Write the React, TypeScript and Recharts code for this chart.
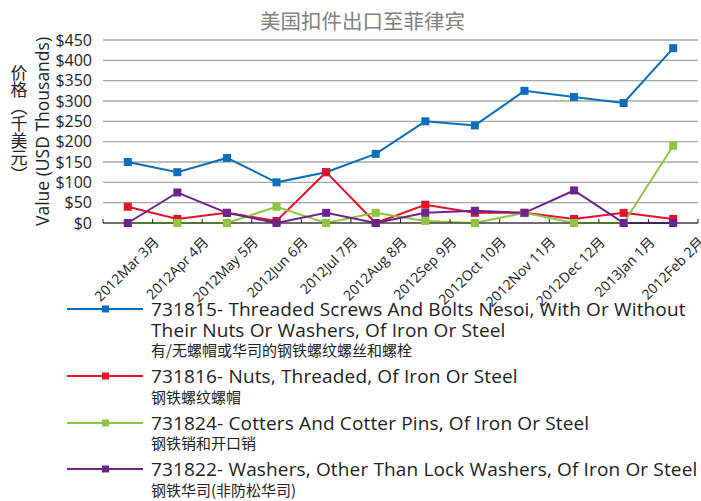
import React from 'react';
import { LineChart, Line, XAxis, YAxis, CartesianGrid, Legend } from 'recharts';

const categories = ['2012Mar 3月', '2012Apr 4月', '2012May 5月', '2012Jun 6月', '2012Jul 7月', '2012Aug 8月', '2012Sep 9月', '2012Oct 10月', '2012Nov 11月', '2012Dec 12月', '2013Jan 1月', '2012Feb 2月'];
const s731815 = [150, 125, 160, 100, 125, 170, 250, 240, 325, 310, 295, 430];
const s731816 = [40, 10, 25, 5, 125, 0, 45, 25, 25, 10, 25, 10];
const s731824 = [0, 0, 0, 40, 0, 25, 5, 0, 25, 0, 0, 190];
const s731822 = [0, 75, 25, 0, 25, 0, 25, 30, 25, 80, 0, 0];
const yTicks = [0, 50, 100, 150, 200, 250, 300, 350, 400, 450];

const seriesKeys = ['s731815', 's731816', 's731824', 's731822'];
const seriesColors = ['#0a6ebd', '#e8102a', '#8dc63f', '#6b238e'];
const seriesLabelsEn = [
  ['731815- Threaded Screws And Bolts Nesoi, With Or Without', 'Their Nuts Or Washers, Of Iron Or Steel'],
  ['731816- Nuts, Threaded, Of Iron Or Steel'],
  ['731824- Cotters And Cotter Pins, Of Iron Or Steel'],
  ['731822- Washers, Other Than Lock Washers, Of Iron Or Steel'],
];
const seriesLabelsCn = [
  '有/无螺帽或华司的钢铁螺纹螺丝和螺栓',
  '钢铁螺纹螺帽',
  '钢铁销和开口销',
  '钢铁华司(非防松华司)',
];
const title = '美国扣件出口至菲律宾';
const yTitleCn = '价格（千美元）';
const yTitleEn = 'Value (USD Thousands)';

const data = categories.map((c, i) => ({
  name: c,
  s731815: s731815[i],
  s731816: s731816[i],
  s731824: s731824[i],
  s731822: s731822[i],
}));

const FONT = '"Open Sans", "Noto Sans CJK SC", sans-serif';
const CJK = '"Noto Sans CJK SC", sans-serif';

const SquareDot = (props: any) => {
  const { cx, cy, stroke } = props;
  if (cx == null || cy == null) return null;
  return <rect x={cx - 4} y={cy - 4} width={8} height={8} fill={stroke} />;
};

const XTick = (props: any) => {
  const { x, y, payload, index, visibleTicksCount } = props;
  const off = payload.offset || 0;
  const ax = x + 32;
  const ay = y + 20;
  return (
    <g>
      <line x1={x - off} x2={x - off} y1={y - 4} y2={y} stroke="#222" strokeWidth={1} />
      {index === visibleTicksCount - 1 && (
        <line x1={x + off} x2={x + off} y1={y - 4} y2={y} stroke="#222" strokeWidth={1} />
      )}
      <text
        x={ax}
        y={ay}
        transform={`rotate(-45, ${ax}, ${ay})`}
        textAnchor="end"
        fontSize={14}
        fill="#222"
        fontFamily={FONT}
      >
        {payload.value}
      </text>
    </g>
  );
};

const YLabel = (props: any) => {
  const vb = props.viewBox || { x: 0, y: 40, width: 103, height: 183 };
  const cy = vb.y + vb.height / 2;
  return (
    <g>
      <text
        x={19}
        y={cy - 8}
        textAnchor="middle"
        fontSize={17}
        fill="#222"
        fontFamily={CJK}
        writingMode="tb"
        style={{ writingMode: 'vertical-rl' } as any}
      >
        {yTitleCn}
      </text>
      <text
        x={0}
        y={0}
        transform={`translate(49, ${cy}) rotate(-90)`}
        textAnchor="middle"
        fontSize={17.5}
        fill="#222"
        fontFamily={FONT}
      >
        {yTitleEn}
      </text>
    </g>
  );
};

const LegendContent = () => (
  <div style={{ fontFamily: FONT, color: '#222' }}>
    {seriesKeys.map((k, i) => (
      <div key={k} style={{ display: 'flex', alignItems: 'flex-start', marginBottom: 5.5 }}>
        <svg width={84} height={20.5} style={{ flex: 'none' }}>
          <line x1={0} x2={76} y1={10} y2={10} stroke={seriesColors[i]} strokeWidth={2} />
          <rect x={35} y={6.5} width={7} height={7} fill={seriesColors[i]} />
        </svg>
        <div style={{ whiteSpace: 'nowrap', lineHeight: '20.5px' }}>
          {seriesLabelsEn[i].map((l, j) => (
            <div key={j} style={{ fontSize: 19, letterSpacing: 0.15 }}>{l}</div>
          ))}
          <div style={{ fontSize: 15, fontFamily: CJK }}>{seriesLabelsCn[i]}</div>
        </div>
      </div>
    ))}
  </div>
);

export default function App() {
  return (
    <div style={{ position: 'absolute', left: 0, top: 0, width: 701, height: 501, background: '#fff', overflow: 'hidden' }}>
      <div
        style={{
          position: 'absolute',
          left: 0,
          width: 725,
          top: 9,
          textAlign: 'center',
          fontFamily: FONT,
          fontSize: 20.5,
          color: '#808080',
          lineHeight: '24px',
        }}
      >
        {title}
      </div>
      <LineChart
        width={701}
        height={501}
        data={data}
        margin={{ top: 40, right: 3, bottom: 208, left: 0 }}
      >
        <CartesianGrid vertical={false} stroke="#a6a6a6" strokeWidth={1.3} />
        <XAxis
          dataKey="name"
          scale="band"
          interval={0}
          tickSize={0}
          tickMargin={0}
          height={70}
          tick={<XTick />}
          axisLine={{ stroke: '#222', strokeWidth: 1.2 }}
          tickLine={false}
        />
        <YAxis
          width={103}
          domain={[0, 450]}
          ticks={yTicks}
          interval={0}
          tickFormatter={(v: number) => `$${v}`}
          axisLine={false}
          tickLine={false}
          tick={{ fontSize: 16, fill: '#222', fontFamily: FONT }}
          tickMargin={5}
          label={<YLabel />}
        />
        <Legend
          layout="vertical"
          align="center"
          verticalAlign="middle"
          wrapperStyle={{ top: 299, left: 67, width: 634 }}
          content={<LegendContent />}
        />
        {seriesKeys.map((k, i) => (
          <Line
            key={k}
            type="linear"
            dataKey={k}
            stroke={seriesColors[i]}
            strokeWidth={2}
            dot={<SquareDot />}
            activeDot={false}
            isAnimationActive={false}
          />
        ))}
      </LineChart>
    </div>
  );
}
